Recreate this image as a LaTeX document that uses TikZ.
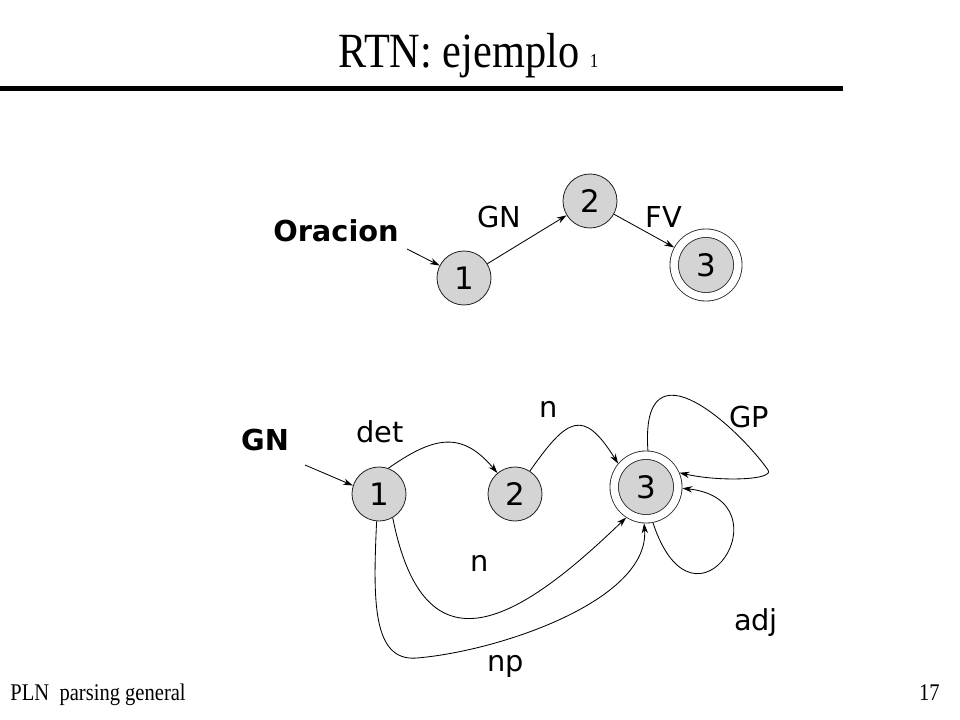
\documentclass[tikz,border=0pt]{standalone}
\usepackage{fontspec}
\usepackage{tikz}
\usetikzlibrary{arrows.meta, automata}

\newfontfamily\dvsans{DejaVu Sans}
\newfontfamily\tmsfont[FakeStretch=0.86]{Liberation Serif}
\newcommand{\lblfont}{\dvsans\fontsize{20.5}{24}\selectfont}

\begin{document}
\begin{tikzpicture}[x=0.025cm, y=0.025cm, ->, >={Stealth[length=7pt, width=4.5pt]}, semithick,
		every state/.style={draw=black!85, fill=black!17, inner sep=0pt, minimum size=1.35cm, font=\dvsans\fontsize{22}{24}\selectfont},
		accepting/.style={double, double distance=5.4pt, minimum size=1.59cm, outer sep=3.3pt},
		lbl/.style={inner sep=0pt, anchor=base, font=\lblfont}]
		\useasboundingbox (0,0) rectangle (960,-720);

		% title and footer
		\node[inner sep=0pt, anchor=base west, font=\tmsfont\fontsize{35}{42}\selectfont] (title) at (338,-68) {RTN: ejemplo {\fontsize{14}{16}\selectfont 1}};
		\draw[-, line width=3.5pt] (0,-88.5) -- (843,-88.5);
		\node[inner sep=0pt, anchor=base west, font=\tmsfont\fontsize{17}{20}\selectfont] (foot) at (10,-700) {PLN\ \ parsing general};
		\node[inner sep=0pt, anchor=base east, font=\tmsfont\fontsize{17}{20}\selectfont] (page) at (940,-700) {17};

		% Oracion
		\node[lbl, font=\lblfont\bfseries] (oracion) at (336,-242) {Oracion};
		\coordinate (t0) at (407,-249);
		\node[state] (t1) at (464,-278) {1};
		\node[state] (t2) at (590,-201) {2};
		\node[state, accepting] (t3) at (706,-265) {3};
		\node[lbl] (tgn) at (499,-228) {GN};
		\node[lbl] (tfv) at (664,-228) {FV};

		\path (t0) edge (t1.153)
			(t1) edge (t2)
			(t2) edge (t3);

		% GN
		\node[lbl, font=\lblfont\bfseries] (gn) at (265,-451) {GN};
		\coordinate (b0) at (305,-465);
		\node[state] (b1) at (379,-494) {1};
		\node[state] (b2) at (515,-494) {2};
		\node[state, accepting] (b3) at (646,-487) {3};
		\node[lbl] (ldet) at (380,-443) {det};
		\node[lbl] (ln1) at (549,-418) {n};
		\node[lbl] (lgp) at (749,-428) {GP};
		\node[lbl] (ln2) at (480,-571) {n};
		\node[lbl] (ladj) at (756,-630) {adj};
		\node[lbl] (lnp) at (506,-671) {np};

		\path (b0) edge (b1.162)
			(b1.70) edge[out=35, in=130, looseness=1.3] (b2.130)
			(b2.57) edge[out=55, in=122, looseness=1.9] (b3.140);
		\draw (b1.-60) .. controls (425,-680) and (520,-620) .. (b3.-123);
		\draw (b1.-95) .. controls (373,-600) and (372,-662) .. (417,-658)
			.. controls (500,-651) and (650,-600) .. (b3.-93);
		\draw (b3.87) .. controls (640,-335) and (740,-430) .. (768,-470)
			.. controls (775,-480) and (720,-482) .. (b3.23);
		\draw (b3.-79) .. controls (695,-650) and (790,-500) .. (b3.-2);
	\end{tikzpicture}
\end{document}
